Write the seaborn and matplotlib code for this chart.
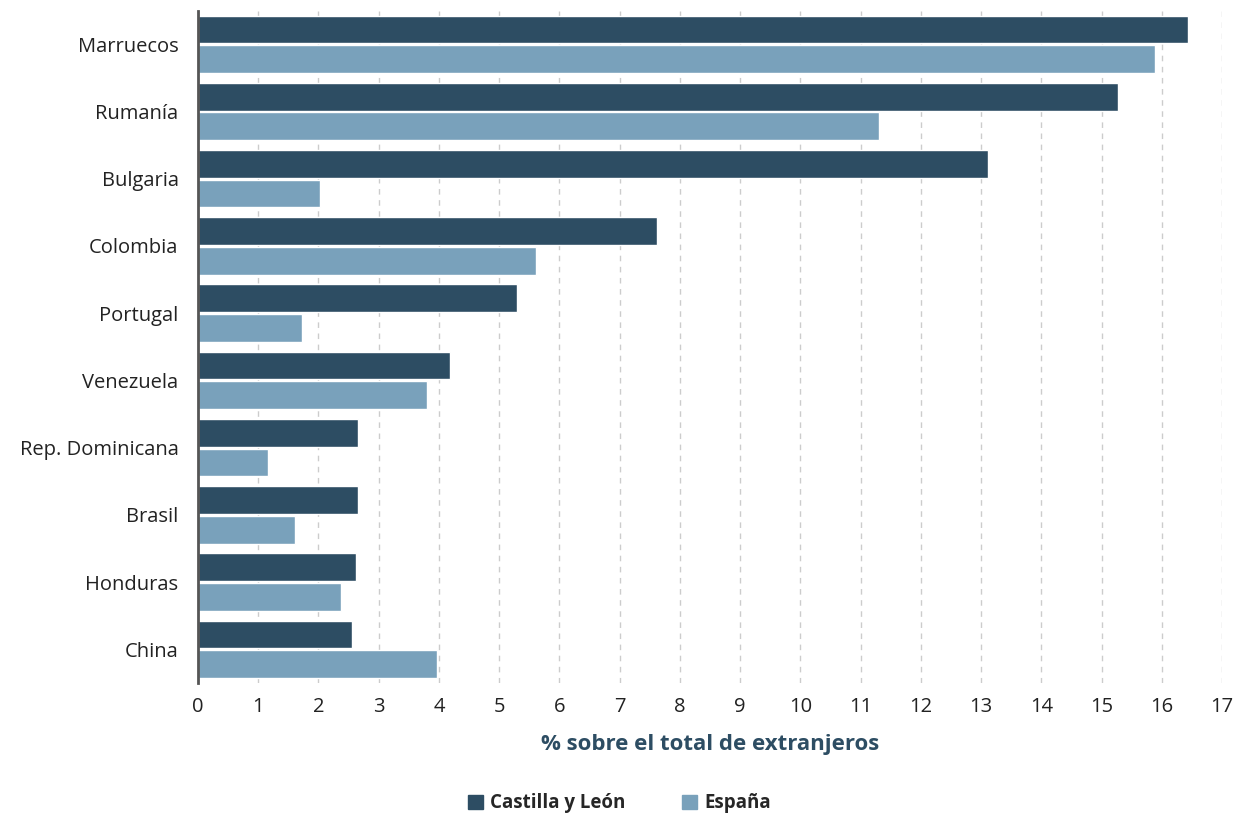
import pandas as pd
import matplotlib.pyplot as plt
import seaborn as sns

# datos
paises = ['Marruecos', 'Rumanía', 'Bulgaria', 'Colombia', 'Portugal',
          'Venezuela', 'Rep. Dominicana', 'Brasil', 'Honduras', 'China']
castilla_leon = [16.43, 15.27, 13.11, 7.62, 5.30, 4.18, 2.66, 2.66, 2.62, 2.56]
espana = [15.89, 11.30, 2.03, 5.61, 1.73, 3.80, 1.16, 1.61, 2.37, 3.97]
series = ['Castilla y León', 'España']
colores = ['#2d4d63', '#79a1bb']

df = pd.DataFrame({'País': paises * 2,
                   'Valor': castilla_leon + espana,
                   'Serie': [series[0]] * len(paises) + [series[1]] * len(paises)})

sns.set_style('white')
plt.rcParams['font.family'] = ['Open Sans', 'DejaVu Sans']

fig = plt.figure(figsize=(12.39, 8.14), dpi=100)
ax = fig.add_axes([0.1598, 0.161, 0.8265, 0.826])

sns.barplot(data=df, x='Valor', y='País', hue='Serie', palette=colores,
            order=paises, hue_order=series, width=0.88, gap=0.06,
            ax=ax, legend=False, saturation=1)

ax.set_xlim(0, 17)
ax.set_xticks(range(0, 18))
ax.tick_params(axis='both', length=0, labelsize=14.5, colors='#222222')
ax.tick_params(axis='y', pad=14)
ax.tick_params(axis='x', pad=10)
ax.xaxis.grid(True, linestyle=(0, (4, 4)), color='#cccccc', linewidth=1)
ax.set_axisbelow(True)
for s in ['top', 'right', 'bottom']:
    ax.spines[s].set_visible(False)
ax.spines['left'].set_color('#555555')
ax.spines['left'].set_linewidth(2)
ax.set_ylabel('')
ax.set_xlabel('% sobre el total de extranjeros', fontsize=16, fontweight='bold',
              color='#2d4d63', labelpad=12)

handles = [plt.Rectangle((0, 0), 1, 1, color=c) for c in colores]
fig.legend(handles, series, loc='lower center', bbox_to_anchor=(0.5, -0.02),
           ncol=2, frameon=False, handlelength=0.8, handleheight=0.8,
           handletextpad=0.4, columnspacing=3, prop={'weight': 'bold', 'size': 13.5})

fig.savefig('out.png', dpi=100)
